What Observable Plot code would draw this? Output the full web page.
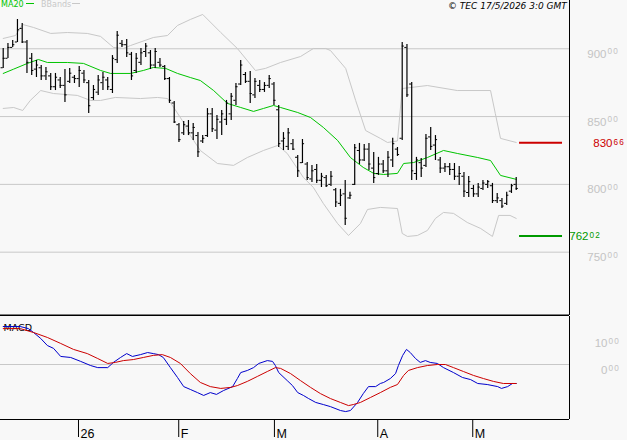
<!DOCTYPE html>
<html>
<head>
<meta charset="utf-8">
<script src="https://cdn.jsdelivr.net/npm/d3@7"></script>
<script src="https://cdn.jsdelivr.net/npm/@observablehq/plot@0.6"></script>
<style>
  html, body { margin: 0; padding: 0; background: #f8f8f8; }
  #chart { position: relative; width: 627px; height: 440px; overflow: hidden; background: #f8f8f8; }
  #chart svg { position: absolute; left: 0; display: block; }
  .hdr { position: absolute; top: 0; font-family: "DejaVu Sans", sans-serif; white-space: nowrap; line-height: normal; }
  .dash { display: inline-block; height: 1px; vertical-align: 3px; }
  .sup text { letter-spacing: 1.2px; }
</style>
</head>
<body>
<div id="chart"></div>
<script>
// ---------- data ----------
// OHLC bars, one per trading day (index 0..108)
const high = [900.2,903.9,906.1,921.6,918.7,906.1,896.5,891.4,887.7,886.2,
881.8,881.8,878.8,884.7,885.5,880.3,887.0,884.0,876.6,872.9,
880.3,882.5,878.8,895.0,912.8,906.1,906.9,897.3,896.5,900.2,
903.9,898.7,900.2,892.8,887.7,878.8,861.1,844.9,846.3,847.1,
844.9,838.2,836.0,855.9,855.9,850.8,854.5,861.9,867.0,874.4,
891.4,882.5,883.3,878.1,876.6,875.1,880.3,875.1,858.2,838.2,
841.2,833.1,821.3,833.1,816.1,813.9,814.7,808.1,806.6,809.5,
797.0,796.3,802.9,794.1,829.4,830.2,829.4,830.2,823.5,819.9,
817.6,824.2,834.1,827.2,904.6,903.2,875.1,819.9,819.1,836.8,
842.0,836.0,819.9,815.4,815.4,815.4,813.2,808.8,805.8,799.2,
800.7,802.9,802.9,800.7,793.3,789.6,794.1,800.0,805.1];
const low = [885.5,892.8,900.9,904.6,903.9,881.8,880.3,878.8,876.6,876.6,
869.2,869.2,870.7,860.4,874.4,874.4,871.5,874.4,852.3,861.9,
865.6,869.2,869.2,867.0,889.2,900.9,893.6,876.6,881.8,887.7,
893.6,884.7,885.5,886.2,876.6,859.7,844.9,830.9,836.0,836.0,
832.4,819.8,830.2,834.6,838.2,833.1,836.0,843.4,847.1,858.2,
872.9,874.4,859.7,863.3,867.8,867.8,870.7,858.2,827.2,825.0,
825.0,825.0,805.1,815.4,802.9,801.4,800.7,797.7,797.7,798.5,
783.0,783.7,769.7,788.9,799.2,814.7,816.9,810.3,800.7,806.6,
808.1,805.1,812.5,820.6,832.4,864.1,802.9,802.9,805.1,812.5,
825.0,817.6,808.1,808.8,806.6,802.9,799.2,790.4,790.4,790.4,
790.4,795.5,797.0,785.9,785.9,782.2,784.5,793.3,795.5];
const open = [886,893,901,905,915,905,893,885,886,880,
880,872,877,873,876,879,878,882,875,864,
868,875,877,870,892,904,903,896,884,890,
898,897,888,890,887,878,860,844,838,843,
838,836,832,836,852,840,846,848,852,862,
874,881,876,866,873,870,873,874,855,832,
828,830,820,816,815,804,811,803,805,800,
796,786,793,790,800,825,818,826,812,808,
815,810,818,826,834,901,874,808,816,814,
835,829,818,812,813,811,806,806,794,797,
793,797,800,799,788,788,786,795,800];
const close = [893,901,903,914,905,890,884,888,880,883,
872,879,873,866,882,878,884,877,858,870,
877,879,872,893,910,903,897,880,893,897,
902,888,898,888,878,862,846,833,844,838,
842,824,834,852,841,848,852,860,865,872,
888,876,867,876,870,873,878,862,830,834,
838,826,810,830,805,810,803,806,799,806,
787,792,775,792,827,818,826,815,805,815,
810,820,830,822,902,866,810,818,812,834,
828,833,812,813,811,806,808,795,802,793,
798,801,802,788,790,784,792,799,797];

// MA20 (read at bar positions)
const maIdx = [0,2.2,5.1,7.4,9.3,13.5,16.9,20.5,22.6,26.8,29.5,31.6,34.2,36.7,39.4,41.5,44.3,47.2,50,52.7,54.8,56.9,58.4,62,64.7,67.4,70.4,73.1,75.8,78,80.1,83,84.3,86.4,89.3,92.7,95.6,99.9,102.6,104.7,108];
const maVal = [881.8,885,889.2,892.1,889.9,889.9,889.2,884.0,881.8,881.8,884.0,886.2,885.5,881.8,878.8,876.6,869.2,859.7,856.7,853.8,856.0,858.2,856.7,853.0,849.3,842.0,832.4,819.8,812.5,808.1,807.3,808.1,815.4,816.1,819.8,825.0,822.8,819.8,817.6,806.6,803.7];

// Bollinger bands
const upIdx = [0,2.6,4.1,6.4,10,13.5,17.7,20.5,23.2,25.3,26.8,31.6,34.6,36.7,39.4,42,45.8,49.3,53.1,55.2,58.4,62.6,65.3,67.9,68.9,72.1,74.2,76.3,79.4,80.9,83,84,89.3,95.6,102.6,103.6,104.7,108];
const upVal = [907.6,909.8,917.9,915.7,911.3,912.0,911.3,909.1,901.0,900.2,902.4,908.3,909.8,917.2,921.6,925.3,912.0,900.2,884.0,885.5,889.9,894.3,900.2,900.2,898.7,885.5,861.9,839.7,833.9,830.9,832.0,870.7,872.9,869.2,869.2,852.3,833.9,830.9];
const loIdx = [0,2.2,4.1,5.7,7.9,10.6,15.6,18.4,20.5,23.6,28.9,32.5,34.6,35.9,37.7,39.4,41.5,45.1,48.5,51.4,54.8,57.8,59.8,63.2,65.3,67.4,70.4,72.7,75.2,76.7,79.4,83,84,85.1,87.2,89.3,91,92.7,94.8,97.7,100.5,103,104.3,106.7,108];
const loVal = [856.0,856.7,854.5,861.9,869.2,867.0,865.6,861.9,861.9,864.1,863.3,864.1,863.3,856.7,847.1,836.0,825.0,815.4,814.0,819.8,825.0,828.7,822.8,805.1,797.7,785.9,771.1,762.3,771.1,781.5,783.0,782.2,763.8,761.6,762.3,766.0,774.9,779.3,778.6,771.9,767.5,761.6,777.1,777.1,774.9];

// MACD and signal
const macdIdx = [0,3.6,5.3,6.4,7.9,9.3,10.6,12.1,14.2,16.3,18.4,19.9,22,23.2,24.7,26,27.2,28.9,30.4,31.6,32.7,33.7,35.2,36.7,38,39.4,40.9,42.2,43.6,44.9,46.4,48.3,49.3,50,51.4,52.7,53.8,55.6,56.7,57.3,58,59.8,60.9,62,63.2,64.3,65.8,67.4,68.9,71,72.1,73.1,74.6,75.8,76.9,78.4,79.4,80.1,81.5,82.6,83.2,84.1,84.9,85.7,86.8,87.8,88.9,89.9,91.4,92.7,94.8,96.7,98.4,99.9,101.9,104.1,104.9,106.2,107.2,108];
const macdVal = [14.6,14.6,13.8,12.3,10.0,7.3,6.2,3.1,2.7,1.2,-0.4,-1.2,-1.2,0.8,2.7,4.2,3.1,3.8,4.6,4.2,3.8,2.7,-1.2,-5.0,-8.5,-9.6,-10.8,-11.9,-10.8,-11.5,-10.0,-8.5,-5.4,-3.1,-2.3,-1.2,0.4,1.5,1.2,-0.4,-3.1,-6.2,-8.1,-10.8,-11.9,-13.1,-14.6,-15.4,-16.2,-17.7,-18.1,-17.7,-14.6,-11.2,-8.5,-8.5,-7.3,-6.9,-5.4,-3.5,-0.4,3.5,5.8,4.6,2.3,0.8,1.5,0.8,0.4,-1.2,-3.1,-5.0,-5.8,-7.3,-7.7,-8.5,-9.2,-8.5,-7.3,-7.3];
const sigIdx = [0,3.6,6.4,9.3,12.1,14.8,17.7,19.9,22,23.6,25.3,27.4,29.5,31.6,33.5,35.2,37.3,39.4,41.5,43.6,45.8,47.9,49.3,51.4,53.5,55.6,57.3,58.4,60.5,62.6,64.7,66.8,68.9,71,72.7,73.7,75.2,77.3,79.4,81.5,83,84.3,85.3,87.2,89.3,91.4,93.1,94.8,96.9,99,101.1,103.2,105.3,108];
const sigVal = [13.8,13.8,12.3,10.4,8.1,5.8,4.2,2.3,0.4,0.8,1.5,1.9,2.7,3.5,3.8,2.7,0.4,-3.5,-6.9,-8.5,-9.2,-8.8,-8.1,-6.5,-4.6,-2.7,-1.2,-1.5,-3.5,-6.2,-8.8,-11.2,-13.1,-14.6,-15.8,-15.4,-14.6,-12.7,-10.8,-8.8,-7.7,-4.2,-2.3,-1.2,-0.4,0,0,-1.2,-2.7,-4.2,-5.4,-6.5,-7.3,-7.3];

// Axis ticks and levels
const priceTicks = [750, 800, 850, 900];
const macdTicks = [0, 10];
const levels = [830.66, 762.02];          // resistance (red), support (green)
const monthTickIdx = [15.85, 36.95, 57.1, 78.85, 98.85];
const monthLabels = ["26", "F", "M", "A", "M"];

// ---------- build tables ----------
const bars = high.map((h, i) => ({i, open: open[i], high: h, low: low[i], close: close[i]}));
const pts = (idx, val) => idx.map((i, k) => ({i, v: val[k]}));
const ma = pts(maIdx, maVal), upper = pts(upIdx, upVal), lower = pts(loIdx, loVal);
const macd = pts(macdIdx, macdVal), signal = pts(sigIdx, sigVal);
const labelOf = new Map(monthTickIdx.map((d, k) => [d, monthLabels[k]]));

// ---------- layout / style ----------
const xDomain = [-0.57, 119.22];
const priceDomain = [703.3, 935.6];
const macdDomain = [-21.15, 18.46];
const SANS = "'Liberation Sans', Arial, sans-serif";
const DEJA = "'DejaVu Sans', sans-serif";
const GRID = "#c8c8c8";
const LBL = "#c4c4c4";
const RED = "#cc0000", GREEN = "#009a00", MAGREEN = "#00c400", BLUE = "#0000cc";
const intPart = v => String(Math.trunc(v));
const decPart = v => v.toFixed(2).split(".")[1];

function labelPair(data, {dxMain, dyMain, dySup, fill}) {
  return [
    Plot.text(data, {y: d => d, text: intPart, frameAnchor: "right", textAnchor: "end",
      dx: dxMain, dy: dyMain, lineAnchor: "bottom", fill, fontSize: 11.5, fontFamily: SANS}),
    Plot.text(data, {y: d => d, text: decPart, frameAnchor: "right", textAnchor: "start",
      dx: dxMain + 1, dy: dySup, lineAnchor: "bottom", fill, fontSize: 8.2, fontFamily: SANS, className: "sup"})
  ];
}

const priceChart = Plot.plot({
  width: 627, height: 316,
  marginLeft: 0, marginRight: 58, marginTop: 0, marginBottom: 1,
  x: {domain: xDomain, axis: null},
  y: {domain: priceDomain, axis: null},
  style: {background: "#f8f8f8", overflow: "visible"},
  marks: [
    Plot.ruleY(priceTicks, {stroke: GRID}),
    Plot.line(upper, {x: "i", y: "v", stroke: GRID, strokeWidth: 1}),
    Plot.line(lower, {x: "i", y: "v", stroke: GRID, strokeWidth: 1}),
    Plot.line(ma, {x: "i", y: "v", stroke: MAGREEN, strokeWidth: 1}),
    Plot.ruleX(bars, {x: "i", y1: "low", y2: "high", stroke: "#000", strokeWidth: 1.2}),
    Plot.ruleY(bars, {y: "open", x1: d => d.i - 0.45, x2: "i", stroke: "#000"}),
    Plot.ruleY(bars, {y: "close", x1: "i", x2: d => d.i + 0.45, stroke: "#000"}),
    Plot.ruleY([levels[0]], {x1: () => 108.7, x2: () => 117.75, stroke: RED, strokeWidth: 2}),
    Plot.ruleY([levels[1]], {x1: () => 108.7, x2: () => 117.75, stroke: GREEN, strokeWidth: 2}),
    ...labelPair(priceTicks, {dxMain: 37, dyMain: 9, dySup: 5.7, fill: LBL}),
    ...labelPair([levels[0]], {dxMain: 43, dyMain: 4.3, dySup: 1.8, fill: RED}),
    ...labelPair([levels[1]], {dxMain: 19, dyMain: 4.3, dySup: 1.8, fill: GREEN}),
    Plot.ruleY([priceDomain[0]], {stroke: "#000", strokeWidth: 2}),
    Plot.ruleX([xDomain[1]], {stroke: "#000"})
  ]
});
priceChart.style.top = "0px";

const macdChart = Plot.plot({
  width: 627, height: 124,
  marginLeft: 0, marginRight: 58, marginTop: 0, marginBottom: 21,
  x: {domain: xDomain},
  y: {domain: macdDomain, axis: null},
  style: {background: "#f8f8f8", overflow: "visible"},
  marks: [
    Plot.text(["MACD"], {text: d => d, frameAnchor: "top-left", dx: 3, dy: 8, lineAnchor: "top",
      fontSize: 9.5, fontFamily: DEJA, fill: "#000"}),
    Plot.ruleY([0], {stroke: GRID}),
    Plot.line(macd, {x: "i", y: "v", stroke: BLUE, strokeWidth: 1}),
    Plot.line(signal, {x: "i", y: "v", stroke: RED, strokeWidth: 1}),
    ...labelPair(macdTicks, {dxMain: 38, dyMain: 9, dySup: 6, fill: LBL}),
    Plot.ruleY([macdDomain[0]], {stroke: "#000"}),
    Plot.ruleX([xDomain[1]], {stroke: "#000"}),
    Plot.axisX(monthTickIdx, {tickSize: 18, fill: "none", tickFormat: () => "", stroke: "#000", label: null}),
    Plot.axisX(monthTickIdx, {tickSize: 0, tickPadding: 9.5, tickFormat: d => labelOf.get(d),
      textAnchor: "start", dx: 2, fontSize: 12.5, fontFamily: SANS, fill: "#000", label: null})
  ]
});
macdChart.style.top = "316px";

const root = document.getElementById("chart");
root.appendChild(priceChart);
root.appendChild(macdChart);

// header legend + copyright
const hdr = document.createElement("div");
hdr.innerHTML = `
  <div class="hdr" style="left:1px;top:0px;font-size:8px;color:${MAGREEN}">MA20<span class="dash" style="width:8px;margin-left:2px;background:${MAGREEN}"></span></div>
  <div class="hdr" style="left:41px;top:0px;font-size:8px;color:#c8c8c8">BBands<span class="dash" style="width:8px;margin-left:1px;background:#c8c8c8"></span></div>
  <div class="hdr" style="left:448px;top:1px;font-size:9px;font-style:italic;color:#000">© TEC 17/5/2026 3:0 GMT</div>`;
root.appendChild(hdr);
</script>
</body>
</html>
